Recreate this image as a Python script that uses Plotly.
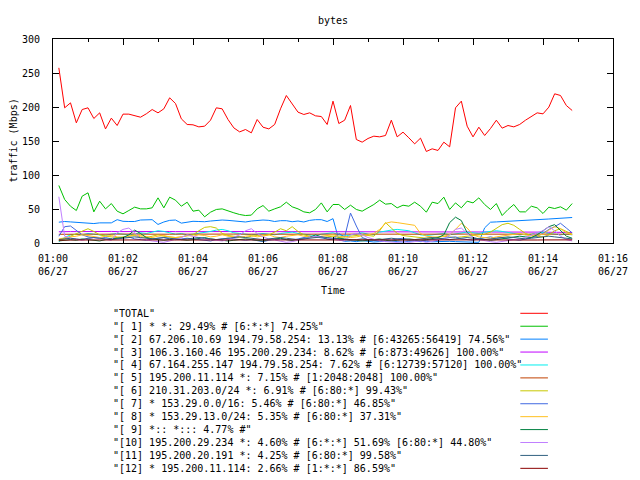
import pandas as pd
import plotly.graph_objects as go

# ---------------- data ----------------
START = "2011-06-27 01:00:10"
STEP = "10s"

total = [257.6, 198.8, 206.1, 176.7, 196.3, 198.8, 183.1, 191.4, 167.8, 183.6,
         172.8, 189.5, 189.5, 187.0, 185.0, 190.0, 196.3, 191.4, 197.3, 213.5,
         205.1, 182.6, 174.3, 173.8, 170.8, 171.8, 180.6, 198.8, 197.3, 181.6,
         169.3, 163.4, 166.9, 162.0, 181.6, 170.3, 167.8, 174.3, 197.3, 216.9,
         205.1, 192.4, 189.0, 191.4, 187.0, 186.0, 174.3, 208.6, 175.7, 180.6,
         202.2, 152.2, 148.3, 153.7, 157.1, 156.1, 158.1, 180.6, 156.1, 163.0,
         154.7, 145.8, 154.2, 134.6, 138.5, 136.1, 148.3, 141.4, 198.8, 208.6,
         171.8, 156.1, 170.3, 158.1, 168.4, 180.6, 168.9, 172.8, 170.8, 174.3,
         180.6, 185.5, 191.4, 189.9, 199.8, 219.4, 216.9, 202.2, 194.9]

s01 = [84.6, 64.0, 54.0, 47.8, 68.9, 73.8, 45.8, 61.5, 50.2, 58.0,
       46.8, 42.9, 47.8, 52.7, 50.2, 50.2, 51.7, 66.4, 51.7, 67.4,
       63.0, 54.1, 60.0, 46.8, 48.3, 38.5, 45.3, 49.3, 50.2, 46.8,
       44.4, 41.9, 40.4, 41.0, 50.2, 55.1, 46.8, 50.2, 53.2, 60.0,
       53.2, 50.2, 45.8, 44.4, 49.3, 59.0, 45.8, 56.6, 56.6, 49.3,
       55.6, 49.3, 46.8, 51.7, 56.6, 63.0, 57.1, 58.0, 51.7, 55.6,
       54.1, 60.0, 54.1, 45.3, 60.0, 58.0, 67.4, 49.3, 59.0, 51.7,
       61.5, 59.0, 66.4, 56.6, 49.3, 58.0, 40.4, 49.3, 56.6, 45.8,
       45.8, 54.1, 51.7, 43.4, 52.7, 50.7, 53.2, 48.3, 58.0]

s02 = [30.6, 31.6, 31.0, 30.6, 29.6, 29.6, 28.6, 29.6, 29.6, 29.6,
       34.3, 31.9, 31.6, 31.6, 33.8, 34.3, 34.3, 27.3, 30.9, 33.3,
       33.8, 29.2, 30.9, 31.9, 31.6, 31.3, 32.3, 33.3, 33.8, 33.3,
       32.3, 30.9, 30.9, 32.3, 33.3, 33.8, 33.3, 31.6, 32.8, 32.8,
       31.3, 32.3, 30.9, 33.3, 34.3, 34.3, 31.6, 35.8, 5.0, 2.5,
       3.0, 2.0, 3.5, 2.5, 1.5, 2.0, 2.6, 3.0, 2.0, 1.5,
       2.5, 3.0, 2.0, 2.5, 1.8, 2.2, 3.0, 2.5, 2.0, 1.5,
       1.0, 1.2, 1.0, 22.3, 30.6, 31.0, 31.6, 32.0, 32.3, 33.3,
       33.5, 34.0, 34.3, 34.8, 35.3, 35.8, 36.3, 37.0, 37.5]

s03 = [16.5, 17.0, 16.8, 16.8, 17.0, 16.9, 16.8, 16.7, 16.9, 17.0,
       16.8, 16.9, 17.0, 16.8, 16.7, 16.8, 16.9, 17.0, 16.8, 16.9,
       16.7, 16.8, 16.9, 16.8, 17.0, 16.9, 16.8, 16.7, 16.8, 16.9,
       17.0, 16.8, 16.7, 16.9, 16.8, 16.8, 17.0, 16.9, 16.8, 16.7,
       16.8, 16.9, 16.8, 17.0, 16.9, 16.8, 16.7, 16.8, 16.9, 16.8,
       16.8, 16.7, 16.9, 17.0, 16.8, 16.9, 16.8, 16.7, 16.8, 16.9,
       16.8, 17.0, 16.9, 16.8, 16.7, 16.8, 16.9, 16.8, 16.7, 16.8,
       16.9, 16.8, 16.7, 16.6, 16.8, 16.5, 16.6, 16.4, 16.5, 16.3,
       16.2, 16.4, 16.1, 16.0, 15.8, 16.0, 15.7, 15.6, 15.4]

s04 = [2, 8, 12, 13, 12, 14, 13, 12, 11, 13,
       14, 13, 12, 13, 15, 14, 16, 18, 17, 15,
       13, 14, 12, 13, 14, 15, 17, 19, 20, 18,
       15, 14, 13, 12, 13, 14, 13, 12, 14, 15,
       16, 14, 13, 12, 11, 13, 14, 15, 12, 10,
       12, 14, 15, 13, 12, 16, 18, 19, 20, 19,
       18, 15, 12, 11, 12, 13, 14, 12, 13, 15,
       16, 15, 14, 16, 17, 18, 17, 15, 14, 13,
       12, 13, 15, 16, 14, 13, 12, 13, 12]

s05 = [12.8, 13.0, 13.1, 12.9, 13.0, 13.2, 13.0, 12.9, 13.1, 13.0,
       13.0, 12.9, 13.1, 13.2, 13.0, 12.8, 13.0, 13.1, 13.0, 12.9,
       13.0, 13.1, 13.2, 13.0, 12.9, 13.0, 13.1, 13.0, 12.8, 13.0,
       13.1, 13.0, 12.9, 13.0, 13.2, 13.1, 13.0, 12.9, 13.0, 13.1,
       13.0, 12.9, 13.0, 13.1, 13.2, 13.0, 12.9, 13.0, 13.1, 13.0,
       12.9, 13.0, 13.1, 13.0, 12.8, 13.0, 13.1, 13.2, 13.0, 12.9,
       13.0, 13.1, 13.0, 12.9, 13.0, 13.1, 13.2, 13.0, 12.9, 13.0,
       13.1, 13.0, 12.9, 13.0, 13.1, 13.0, 12.8, 13.0, 13.1, 13.0,
       12.9, 13.0, 13.1, 13.0, 12.9, 13.0, 13.1, 13.0, 12.9]

s06 = [4, 6, 10, 14, 18, 21, 17, 12, 10, 9,
       8, 9, 10, 11, 9, 8, 10, 12, 10, 9,
       8, 9, 10, 12, 18, 23, 24, 22, 14, 11,
       10, 9, 8, 10, 11, 10, 12, 16, 21, 18,
       24, 17, 12, 10, 9, 8, 9, 10, 8, 9,
       10, 11, 12, 11, 10, 18, 30, 22, 14, 11,
       10, 9, 8, 7, 8, 9, 10, 9, 8, 9,
       10, 11, 12, 13, 16, 22, 27, 29, 26, 20,
       14, 11, 10, 9, 12, 18, 21, 17, 13]

s07 = [10, 24, 25, 18, 12, 9, 8, 7, 8, 6,
       7, 8, 9, 6, 5, 4, 6, 7, 8, 6,
       5, 6, 7, 6, 5, 4, 3, 5, 6, 7,
       6, 5, 4, 5, 3, 2, 4, 5, 6, 5,
       4, 6, 8, 10, 9, 7, 6, 5, 14, 9,
       44, 25, 8, 5, 4, 3, 5, 4, 6, 7,
       5, 4, 3, 4, 5, 6, 7, 8, 9, 6,
       5, 4, 6, 8, 9, 7, 8, 6, 5, 4,
       6, 8, 10, 14, 20, 24, 29, 22, 15]

s08 = [6, 8, 9, 10, 12, 11, 9, 8, 10, 11,
       9, 8, 10, 12, 11, 9, 8, 10, 11, 9,
       8, 9, 11, 10, 12, 11, 9, 10, 12, 10,
       9, 8, 10, 11, 9, 10, 12, 9, 8, 10,
       11, 12, 10, 9, 8, 10, 11, 12, 10, 9,
       8, 9, 10, 12, 14, 20, 29, 31, 30, 29,
       28, 26, 14, 10, 9, 8, 10, 12, 20, 29,
       22, 12, 9, 8, 7, 9, 10, 11, 12, 14,
       12, 10, 11, 13, 19, 24, 21, 15, 12]

s09 = [3, 4, 5, 4, 6, 5, 4, 3, 5, 6,
       7, 8, 12, 19, 14, 8, 6, 5, 4, 5,
       6, 5, 4, 5, 7, 8, 6, 5, 4, 3,
       4, 5, 6, 5, 4, 3, 5, 6, 7, 5,
       4, 5, 6, 8, 12, 9, 6, 5, 7, 6,
       5, 4, 3, 4, 5, 6, 4, 3, 4, 5,
       6, 5, 4, 5, 6, 8, 12, 30, 38, 33,
       15, 8, 6, 5, 4, 5, 6, 7, 8, 10,
       9, 8, 12, 18, 24, 27, 18, 10, 7]

s10 = [68, 10, 7, 5, 4, 6, 8, 7, 5, 4,
       15, 20, 22, 15, 6, 4, 3, 2, 1, 3,
       5, 8, 12, 10, 7, 6, 5, 4, 3, 5,
       8, 12, 18, 21, 14, 9, 6, 4, 2, 1,
       2, 4, 6, 8, 10, 9, 7, 5, 4, 3,
       12, 14, 12, 8, 5, 3, 2, 1, 1, 2,
       1, 2, 3, 1, 2, 4, 6, 12, 20, 22,
       14, 8, 5, 3, 2, 1, 2, 3, 4, 6,
       8, 12, 15, 18, 24, 18, 10, 5, 3]

s11 = [5, 6, 7, 6, 5, 7, 8, 7, 6, 5,
       6, 7, 8, 9, 8, 7, 6, 7, 8, 7,
       6, 5, 6, 7, 8, 7, 6, 5, 6, 7,
       8, 9, 8, 7, 6, 5, 6, 7, 8, 7,
       6, 5, 6, 7, 8, 9, 8, 7, 6, 5,
       4, 5, 6, 5, 4, 5, 6, 7, 6, 5,
       4, 5, 6, 7, 8, 7, 6, 5, 6, 7,
       8, 7, 6, 5, 6, 7, 8, 9, 8, 7,
       6, 7, 8, 9, 10, 9, 8, 7, 6]

s12 = [4.0, 4.5, 4.6, 4.5, 4.4, 4.5, 4.6, 4.5, 4.4, 4.5,
       4.6, 4.5, 4.4, 4.5, 4.6, 4.5, 4.5, 4.4, 4.5, 4.6,
       4.5, 4.4, 4.5, 4.6, 4.5, 4.5, 4.4, 4.5, 4.6, 4.5,
       4.4, 4.5, 4.6, 4.5, 4.4, 4.5, 4.6, 4.5, 4.5, 4.4,
       4.5, 4.6, 4.5, 4.4, 4.5, 4.6, 4.5, 4.4, 4.5, 4.6,
       4.5, 4.5, 4.4, 4.5, 4.6, 4.5, 4.4, 4.5, 4.6, 4.5,
       4.4, 4.5, 4.6, 4.5, 4.5, 4.4, 4.5, 4.6, 4.5, 4.4,
       4.5, 4.6, 4.5, 4.4, 4.5, 4.6, 4.5, 4.5, 4.4, 4.5,
       4.6, 4.5, 4.4, 4.5, 4.6, 4.5, 4.4, 4.5, 4.6]

series_names = [
    '"TOTAL"',
    '"[ 1] * *: 29.49% # [6:*:*] 74.25%"',
    '"[ 2] 67.206.10.69 194.79.58.254: 13.13% # [6:43265:56419] 74.56%"',
    '"[ 3] 106.3.160.46 195.200.29.234: 8.62% # [6:873:49626] 100.00%"',
    '"[ 4] 67.164.255.147 194.79.58.254: 7.62% # [6:12739:57120] 100.00%"',
    '"[ 5] 195.200.11.114 *: 7.15% # [1:2048:2048] 100.00%"',
    '"[ 6] 210.31.203.0/24 *: 6.91% # [6:80:*] 99.43%"',
    '"[ 7] * 153.29.0.0/16: 5.46% # [6:80:*] 46.85%"',
    '"[ 8] * 153.29.13.0/24: 5.35% # [6:80:*] 37.31%"',
    '"[ 9] *:: *::: 4.77% #"',
    '"[10] 195.200.29.234 *: 4.60% # [6:*:*] 51.69% [6:80:*] 44.80%"',
    '"[11] 195.200.20.191 *: 4.25% # [6:80:*] 99.58%"',
    '"[12] * 195.200.11.114: 2.66% # [1:*:*] 86.59%"',
]
series_values = [total, s01, s02, s03, s04, s05, s06, s07, s08, s09, s10, s11, s12]

x_tick_vals = ["2011-06-27 01:00", "2011-06-27 01:02", "2011-06-27 01:04",
               "2011-06-27 01:06", "2011-06-27 01:08", "2011-06-27 01:10",
               "2011-06-27 01:12", "2011-06-27 01:14", "2011-06-27 01:16"]
x_tick_text = ["01:00<br>06/27", "01:02<br>06/27", "01:04<br>06/27",
               "01:06<br>06/27", "01:08<br>06/27", "01:10<br>06/27",
               "01:12<br>06/27", "01:14<br>06/27", "01:16<br>06/27"]
x_minor_vals = ["2011-06-27 01:%02d" % m for m in range(0, 17)]

# ---------------- style ----------------
colors = ["#ff0000", "#00c000", "#0080ff", "#c000ff", "#00eeee", "#c04000",
          "#c8c800", "#4169e1", "#ffc020", "#008040", "#c080ff", "#306080",
          "#8b0000"]
FONT = "DejaVu Sans Mono"
W, H = 640, 480
L, R, T, B = 53, 19, 39, 237


def px_x(px):
    return (px - L) / (W - L - R)


def px_y(py):
    return (H - B - py) / (H - T - B)


times = pd.date_range(START, periods=len(total), freq=STEP)

fig = go.Figure()
for name, vals, col in zip(series_names, series_values, colors):
    fig.add_trace(go.Scatter(x=times, y=vals, mode="lines", name=name,
                             line=dict(color=col, width=1),
                             showlegend=False, hoverinfo="skip"))

annotations = [
    dict(text="bytes", x=0.5, y=px_y(20), xref="paper", yref="paper",
         xanchor="center", yanchor="middle", showarrow=False),
    dict(text="Time", x=0.5, y=px_y(290), xref="paper", yref="paper",
         xanchor="center", yanchor="middle", showarrow=False),
    dict(text="traffic (Mbps)", x=px_x(12), y=px_y(141), xref="paper",
         yref="paper", xanchor="center", yanchor="middle", textangle=-90,
         showarrow=False),
]
shapes = []
for i, (name, col) in enumerate(zip(series_names, colors)):
    yy = px_y(313.3 + 12.92 * i)
    annotations.append(dict(text=name, x=px_x(112), y=yy, xref="paper",
                            yref="paper", xanchor="left", yanchor="middle",
                            showarrow=False, font=dict(color="black")))
    shapes.append(dict(type="line", xref="paper", yref="paper",
                       x0=px_x(527), x1=px_x(555), y0=yy, y1=yy,
                       line=dict(color=col, width=1)))

fig.update_layout(
    width=W, height=H, autosize=False,
    margin=dict(l=L, r=R, t=T, b=B, pad=0),
    paper_bgcolor="white", plot_bgcolor="white",
    font=dict(family=FONT, size=10, color="black"),
    showlegend=False,
    annotations=annotations,
    shapes=shapes,
    xaxis=dict(type="date",
               range=["2011-06-27 01:00", "2011-06-27 01:16"],
               tickmode="array", tickvals=x_tick_vals, ticktext=x_tick_text,
               ticks="inside", ticklen=6, tickcolor="black", tickwidth=1,
               showline=True, linecolor="black", linewidth=1, mirror="ticks",
               showgrid=False, zeroline=False, ticklabelstandoff=6,
               minor=dict(tickmode="array", tickvals=x_minor_vals,
                          ticks="inside", ticklen=3, tickcolor="black",
                          showgrid=False)),
    yaxis=dict(range=[0, 300], tickmode="linear", tick0=0, dtick=50,
               ticks="inside", ticklen=6, tickcolor="black", tickwidth=1,
               showline=True, linecolor="black", linewidth=1, mirror="ticks",
               showgrid=False, zeroline=False, ticklabelstandoff=10),
)

fig.write_html("out.html",
               config={"displayModeBar": False, "staticPlot": True},
               post_script="document.body.style.margin='0px';"
                           "document.body.style.overflow='hidden';")
